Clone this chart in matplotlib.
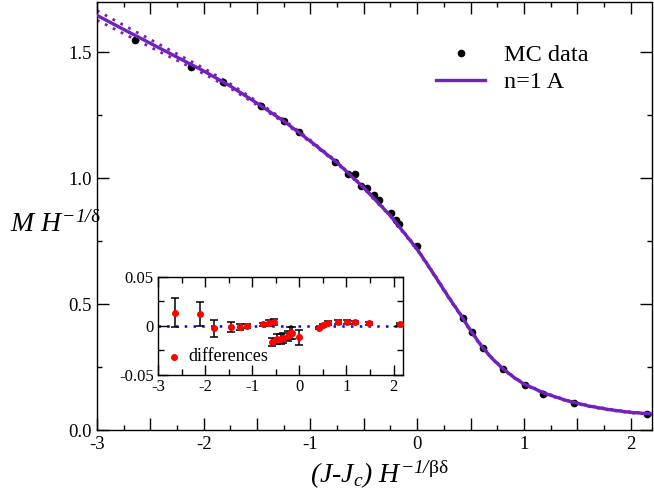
import matplotlib
matplotlib.use('Agg')
import matplotlib.pyplot as plt
from matplotlib.ticker import MultipleLocator, FuncFormatter
import numpy as np

plt.rcParams['font.family'] = ['Liberation Serif', 'DejaVu Serif']
plt.rcParams['mathtext.fontset'] = 'custom'
# italic digits in the axis labels, upright greek through \mathsf
plt.rcParams['mathtext.rm'] = 'Liberation Serif:italic'
plt.rcParams['mathtext.it'] = 'Liberation Serif:italic'
plt.rcParams['mathtext.sf'] = 'Liberation Serif'
plt.rcParams['axes.unicode_minus'] = False

# MC data (main panel)
mc_x = [-2.64, -2.12, -1.815, -1.46, -1.25, -1.11, -0.77, -0.644, -0.58, -0.53,
        -0.47, -0.40, -0.356, -0.247, -0.20, -0.166, 0.0, 0.428, 0.512, 0.615,
        0.80, 1.01, 1.175, 1.47, 2.15]
mc_y = [1.551, 1.442, 1.382, 1.288, 1.227, 1.184, 1.065, 1.018, 1.015, 0.968,
        0.963, 0.935, 0.913, 0.860, 0.836, 0.817, 0.730, 0.446, 0.388, 0.327,
        0.241, 0.179, 0.143, 0.106, 0.062]

# n=1 A curve
curve_x = [-3.0, -2.75, -2.5, -2.25, -2.0, -1.75, -1.5, -1.25, -1.0, -0.75, -0.5,
           -0.25, 0.0, 0.1, 0.2, 0.3, 0.4, 0.5, 0.6, 0.7, 0.8, 0.9, 1.0, 1.2,
           1.4, 1.6, 1.8, 2.0, 2.2]
curve_y = [1.647, 1.591, 1.536, 1.481, 1.426, 1.366, 1.298, 1.227, 1.147, 1.062,
           0.962, 0.851, 0.718, 0.655, 0.590, 0.524, 0.462, 0.395, 0.335, 0.285,
           0.245, 0.211, 0.183, 0.145, 0.117, 0.096, 0.081, 0.070, 0.064]
# half width of the dotted error band
band = [0.019, 0.017, 0.015, 0.013, 0.011, 0.009, 0.007, 0.005, 0.004, 0.003,
        0.003, 0.003, 0.003, 0.003, 0.003, 0.003, 0.003, 0.003, 0.003, 0.002,
        0.002, 0.002, 0.002, 0.002, 0.002, 0.002, 0.002, 0.002, 0.002]

# differences (inset)
diff_x = [-2.63, -2.10, -1.81, -1.46, -1.25, -1.11, -0.78, -0.65, -0.585, -0.53,
          -0.47, -0.40, -0.345, -0.25, -0.19, -0.155, 0.0, 0.42, 0.51, 0.60,
          0.81, 1.01, 1.18, 1.48, 2.13]
diff_y = [0.0136, 0.0122, -0.0024, -0.0013, -0.001, 0.0, 0.0017, 0.0027, -0.016,
          0.004, -0.0136, -0.013, -0.0125, -0.010, -0.0075, -0.007, -0.0116,
          -0.002, 0.0007, 0.0027, 0.0044, 0.0044, 0.004, 0.0027, 0.0017]
diff_err = [0.015, 0.012, 0.009, 0.005, 0.003, 0.002, 0.0015, 0.003, 0.004, 0.003,
            0.005, 0.005, 0.005, 0.005, 0.006, 0.006, 0.0075, 0.001, 0.001, 0.002,
            0.002, 0.002, 0.0015, 0.0015, 0.001]

indigo = '#7221bc'

fig = plt.figure(figsize=(6.54, 5.03), dpi=100)
ax = fig.add_axes([0.1483, 0.1451, 0.8486, 0.8509])

cy = np.array(curve_y)
bw = np.array(band)
ax.plot(curve_x, cy + bw, color=indigo, lw=2, ls=(0, (1, 2.2)), zorder=2)
ax.plot(curve_x, cy - bw, color=indigo, lw=2, ls=(0, (1, 2.2)), zorder=2)
pts, = ax.plot(mc_x, mc_y, 'o', color='black', ms=4.5, ls='none', zorder=2,
               label='MC data')
fit, = ax.plot(curve_x, curve_y, color=indigo, lw=2.4, zorder=3, label='n=1 A')

ax.set_xlim(-3, 2.2)
ax.set_ylim(0, 1.7)
ax.xaxis.set_major_locator(MultipleLocator(0.5))
ax.xaxis.set_minor_locator(MultipleLocator(0.25))
ax.yaxis.set_major_locator(MultipleLocator(0.5))
ax.yaxis.set_minor_locator(MultipleLocator(0.25))
ax.xaxis.set_major_formatter(FuncFormatter(
    lambda v, p: '%d' % round(v) if abs(v - round(v)) < 1e-6 else ''))
ax.yaxis.set_major_formatter(FuncFormatter(lambda v, p: '%.1f' % v))
ax.tick_params(which='both', direction='in', top=True, right=True,
               labelsize=13.5, width=1)
ax.tick_params(which='major', length=8.5, pad=4)
ax.tick_params(which='minor', length=3.8)
for s in ax.spines.values():
    s.set_linewidth(1)

ax.legend([pts, fit], ['MC data', 'n=1 A'], loc='upper left',
          bbox_to_anchor=(0.667, 0.912), bbox_transform=fig.transFigure,
          frameon=False, fontsize=17.5, handlelength=2.0, handletextpad=0.8,
          labelspacing=0.2, borderpad=0, borderaxespad=0)

fig.text(0.015, 0.539, r'$M\ H^{-1/\mathsf{\delta}}$', fontsize=20,
         va='baseline')
fig.text(0.58, 0.040, r'$(J$-$J_c)\ H^{-1/\mathsf{\beta\delta}}$',
         fontsize=20, ha='center', va='baseline')

# inset
axi = fig.add_axes([0.2416, 0.2545, 0.3746, 0.1948])
axi.plot([-3, 2.2], [0, 0], color='blue', lw=1.8, ls=(0, (1, 2.5)), zorder=1)
axi.errorbar(diff_x, diff_y, yerr=diff_err, fmt='none', ecolor='black',
             elinewidth=1.1, capsize=2.8, capthick=1.1, zorder=2)
dots, = axi.plot(diff_x, diff_y, 'o', color='red', ms=4, ls='none', zorder=3)
axi.plot([-2.66], [-0.0316], 'o', color='red', ms=4)
axi.text(-2.35, -0.0316, 'differences', fontsize=13, va='center')

axi.set_xlim(-3, 2.2)
axi.set_ylim(-0.05, 0.05)
axi.xaxis.set_major_locator(MultipleLocator(1))
axi.xaxis.set_minor_locator(MultipleLocator(0.5))
axi.yaxis.set_major_locator(MultipleLocator(0.05))
axi.yaxis.set_minor_locator(MultipleLocator(0.025))
axi.xaxis.set_major_formatter(FuncFormatter(lambda v, p: '%d' % round(v)))
axi.yaxis.set_major_formatter(FuncFormatter(
    lambda v, p: '0' if abs(v) < 1e-9 else '%.2f' % v))
axi.tick_params(which='both', direction='in', top=True, right=True,
                labelsize=12, width=1)
axi.tick_params(which='major', length=7, pad=3)
axi.tick_params(which='minor', length=4.5)
for s in axi.spines.values():
    s.set_linewidth(1)

fig.savefig('out.png', dpi=100)
